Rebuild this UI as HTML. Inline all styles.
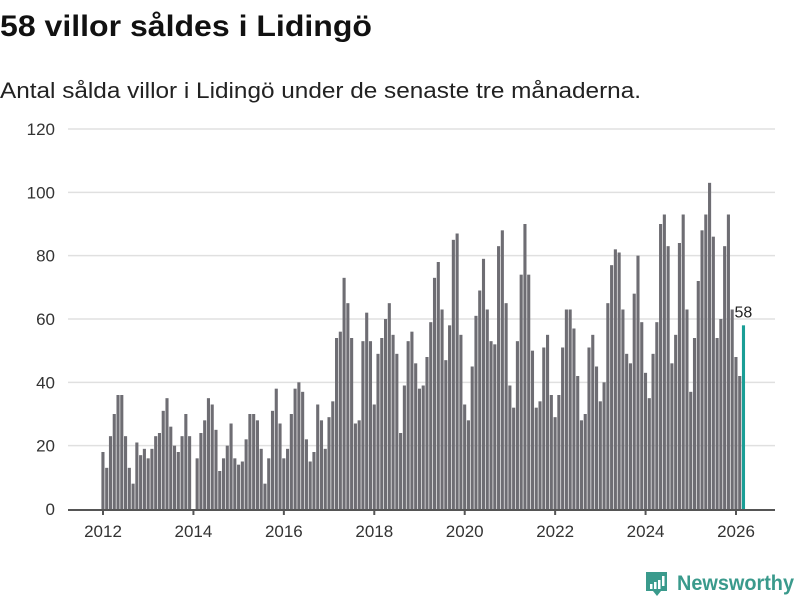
<!DOCTYPE html>
<html><head><meta charset="utf-8"><style>
body{margin:0;background:#fff;width:800px;height:600px;overflow:hidden;font-family:"Liberation Sans",sans-serif}
</style></head><body>
<svg width="800" height="600" xmlns="http://www.w3.org/2000/svg">
<text x="0" y="36" font-size="30" font-weight="bold" fill="#111" textLength="372" lengthAdjust="spacingAndGlyphs">58 villor såldes i Lidingö</text>
<text x="0" y="98" font-size="22.5" fill="#222" textLength="641" lengthAdjust="spacingAndGlyphs">Antal sålda villor i Lidingö under de senaste tre månaderna.</text>
<g id="grid"></g><g id="bars"></g><g id="xaxis"></g>
<g>
<path d="M646 572 h21 v19 h-6 l-4 5 l-4 -5 h-7 z" fill="#3a9a8c"/>
<rect x="650" y="584" width="2.5" height="5" fill="#fff"/><rect x="654" y="582" width="2.5" height="7" fill="#fff"/><rect x="658" y="580" width="2.5" height="9" fill="#fff"/><rect x="662" y="576" width="2.5" height="10" fill="#fff"/>
<text x="677" y="590" font-size="21" font-weight="bold" fill="#3a9a8c" textLength="117" lengthAdjust="spacingAndGlyphs">Newsworthy</text>
</g>
</svg>
<script>
const startYear = 2012;
const values = [
18,13,23,30,36,36,23,13,8,21,17,19,
16,19,23,24,31,35,26,20,18,23,30,23,
0,16,24,28,35,33,25,12,16,20,27,16,
14,15,22,30,30,28,19,8,16,31,38,27,
16,19,30,38,40,37,22,15,18,33,28,19,
29,34,54,56,73,65,54,27,28,53,62,53,
33,49,54,60,65,55,49,24,39,53,56,46,
38,39,48,59,73,78,63,47,58,85,87,55,
33,28,45,61,69,79,63,53,52,83,88,65,
39,32,53,74,90,74,50,32,34,51,55,36,
29,36,51,63,63,57,42,28,30,51,55,45,
34,40,65,77,82,81,63,49,46,68,80,59,
43,35,49,59,90,93,83,46,55,84,93,63,
37,54,72,88,93,103,86,54,60,83,93,63,
48,42,58];
const yTicks = [0,20,40,60,80,100,120];
const xTicks = [2012,2014,2016,2018,2020,2022,2024,2026];
const NS="http://www.w3.org/2000/svg";
const y0=509, yPer=380/120, x0=103, xPerYear=(736-103)/14;
const yS=v=>y0-v*yPer, xS=m=>x0+m*xPerYear/12;
function mk(t,a,p){const e=document.createElementNS(NS,t);for(const k in a)e.setAttribute(k,a[k]);p.appendChild(e);return e;}
const grid=document.getElementById('grid'),bars=document.getElementById('bars'),xa=document.getElementById('xaxis');
yTicks.forEach(v=>{
 if(v>0){const l=mk('line',{x1:68,x2:775,y1:yS(v),y2:yS(v),stroke:'#e0e0e0','stroke-width':1.5},grid);
 
 }
 const t=mk('text',{x:55,y:yS(v)+6,'text-anchor':'end','font-size':17,fill:'#333'},grid);t.textContent=v;
 
 
});
values.forEach((v,i)=>{
 const last=i===values.length-1;
 const r=mk('rect',{x:xS(i)-1.6,y:yS(v),width:3.1,height:v*yPer,fill:last?'#1a9e96':'#6e6d73'},bars);
 
 
 if(last){const t=mk('text',{x:xS(i)-9,y:yS(v)-8,'font-size':16,fill:'#222'},bars);t.textContent=v;
 
 }
});
const ax=mk('line',{x1:68,x2:775,y1:y0+1,y2:y0+1,stroke:'#555','stroke-width':2},xa);


xTicks.forEach(yr=>{
 const x=xS((yr-startYear)*12);
 const l=mk('line',{x1:x,x2:x,y1:y0,y2:y0+6,stroke:'#555','stroke-width':2},xa);
 
 
 const t=mk('text',{x:x,y:y0+28,'text-anchor':'middle','font-size':17,fill:'#333'},xa);t.textContent=yr;
 
 
});
</script>
</body></html>
